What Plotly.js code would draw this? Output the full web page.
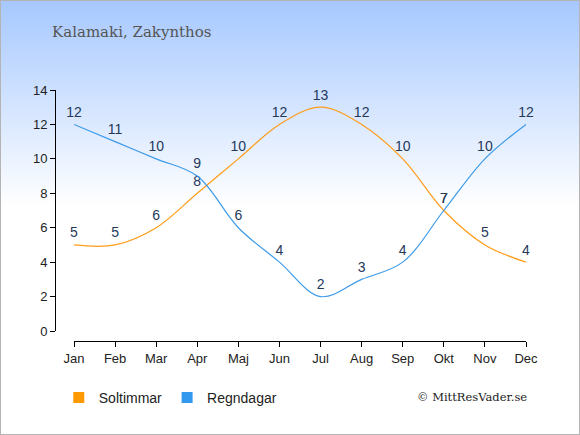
<!DOCTYPE html>
<html>
<head>
<meta charset="utf-8">
<script src="https://cdn.plot.ly/plotly-3.0.1.min.js"></script>
<style>
html,body{margin:0;padding:0;}
#wrap{position:relative;width:580px;height:435px;box-sizing:border-box;border:1px solid #b4b4b4;
background:linear-gradient(to bottom,#a6c8ff 0px,#ffffff 205px,#ffffff 435px);}
#chart{position:absolute;left:-1px;top:-1px;width:580px;height:435px;}
</style>
</head>
<body>
<div id="wrap"><div id="chart"></div></div>
<script>
const months = ["Jan","Feb","Mar","Apr","Maj","Jun","Jul","Aug","Sep","Okt","Nov","Dec"];
const soltimmar = [5,5,6,8,10,12,13,12,10,7,5,4];
const regndagar = [12,11,10,9,6,4,2,3,4,7,10,12];
const seriesNames = ["Soltimmar","Regndagar"];
const titleText = "Kalamaki, Zakynthos";
const creditText = "© MittResVader.se";
const yTicks = [0,2,4,6,8,10,12,14];

const xIdx = months.map((m,i)=>i);
const orange = "#ff9c1a", blue = "#3d9be9";
const labelFont = {family:"Liberation Sans, Arial, sans-serif", size:14, color:"#24395a"};

function lineTrace(vals, color, name){
  return {x:xIdx, y:vals, name:name, type:"scatter", mode:"lines+markers+text",
    line:{color:color, width:1.2, shape:"spline", smoothing:1},
    marker:{size:5, color:"rgba(0,0,0,0)"},
    text:vals.map(String), textposition:"top center", textfont:labelFont,
    showlegend:false, hoverinfo:"skip", cliponaxis:false};
}
function legendTrace(color, name){
  return {x:[null], y:[null], name:name, type:"scatter", mode:"markers",
    marker:{symbol:"square", size:11, color:color}, showlegend:true, hoverinfo:"skip"};
}

const data = [
  lineTrace(soltimmar, orange, seriesNames[0]),
  lineTrace(regndagar, blue, seriesNames[1]),
  legendTrace("#ff9900", seriesNames[0]),
  legendTrace("#3399ee", seriesNames[1])
];

const tickFont = {family:"Liberation Sans, Arial, sans-serif", size:13, color:"#222"};
const layout = {
  width:580, height:435,
  paper_bgcolor:"rgba(0,0,0,0)", plot_bgcolor:"rgba(0,0,0,0)",
  margin:{l:55, r:54, t:90, b:94, pad:0},
  title:{text:titleText, xref:"container", yref:"container", x:52/580, xanchor:"left",
    y:1-32/435, yanchor:"middle", font:{family:"DejaVu Serif, serif", size:15, color:"#555"}},
  xaxis:{domain:[19/471,1], range:[0,11], tickvals:xIdx, ticktext:months,
    anchor:"free", position:0, showline:true, linecolor:"#000", linewidth:1.3,
    ticks:"outside", ticklen:5, tickcolor:"#000", showgrid:false, zeroline:false,
    tickfont:tickFont, fixedrange:true},
  yaxis:{domain:[10/251,1], range:[0,14], tickvals:yTicks,
    anchor:"free", position:0, showline:true, linecolor:"#000", linewidth:1.3,
    ticks:"outside", ticklen:5, tickcolor:"#000", showgrid:false, zeroline:false,
    tickfont:tickFont, fixedrange:true},
  showlegend:true,
  legend:{orientation:"h", x:0.008, xanchor:"left", y:(341-398)/251, yanchor:"middle",
    bgcolor:"rgba(0,0,0,0)", font:{family:"Liberation Sans, Arial, sans-serif", size:14, color:"#222"},
    itemclick:false, itemdoubleclick:false},
  annotations:[{text:creditText, xref:"paper", yref:"paper", x:(529-55)/471, xanchor:"right",
    y:(341-397)/251, yanchor:"middle", showarrow:false,
    font:{family:"DejaVu Serif, serif", size:11.5, color:"#222"}}]
};
Plotly.newPlot("chart", data, layout, {displayModeBar:false, staticPlot:true});
</script>
</body>
</html>
